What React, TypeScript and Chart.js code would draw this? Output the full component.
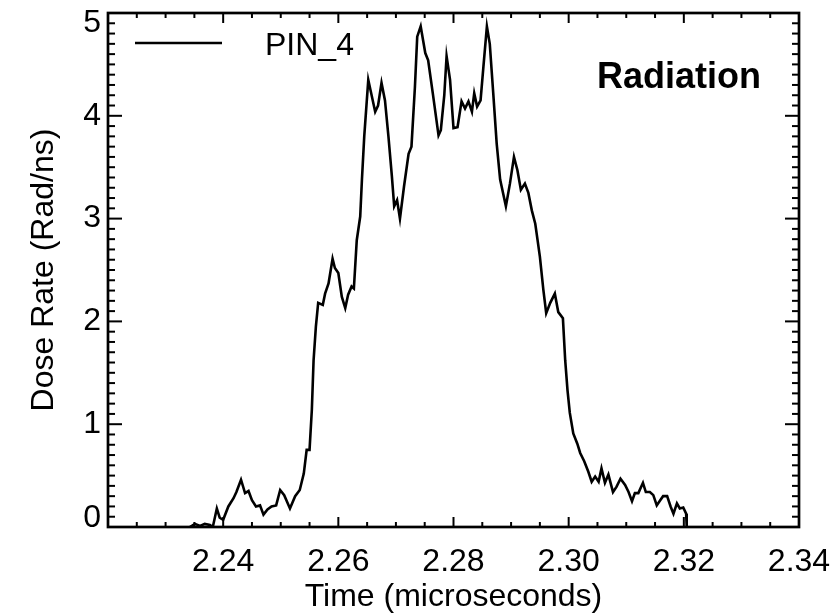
import { useEffect, useRef } from "react";
import { Chart, registerables } from "chart.js";

Chart.register(...registerables);

const FONT = '"Liberation Sans", Arial, Helvetica, sans-serif';

const seriesLabel = "PIN_4";
const annotationText = "Radiation";
const xTitle = "Time (microseconds)";
const yTitle = "Dose Rate (Rad/ns)";

const timeValues = [
  2.2342, 2.2351, 2.236, 2.2368, 2.2377, 2.2382, 2.2389, 2.2394, 2.24, 2.2409,
  2.2418, 2.2423, 2.2431, 2.2438, 2.2444, 2.245, 2.2457, 2.2464, 2.247, 2.2477,
  2.2484, 2.2492, 2.2499, 2.2506, 2.2516, 2.2525, 2.2533, 2.254, 2.2545, 2.255,
  2.2554, 2.2557, 2.2561, 2.2565, 2.2573, 2.2577, 2.2583, 2.259, 2.2594, 2.26,
  2.2606, 2.2612, 2.2617, 2.2623, 2.2627, 2.2632, 2.2638, 2.2641, 2.2645, 2.2652,
  2.2664, 2.2669, 2.2675, 2.2681, 2.2687, 2.2693, 2.2697, 2.2702, 2.2707, 2.2714,
  2.2722, 2.2727, 2.2733, 2.2737, 2.2743, 2.2751, 2.2756, 2.2764, 2.2774, 2.2778,
  2.2784, 2.2788, 2.2794, 2.28, 2.2807, 2.2814, 2.282, 2.2826, 2.2832, 2.2836,
  2.2841, 2.2847, 2.2852, 2.2858, 2.2863, 2.2869, 2.2875, 2.2881, 2.2891, 2.2898,
  2.2905, 2.2911, 2.2917, 2.2924, 2.293, 2.2936, 2.2942, 2.2946, 2.295, 2.2956,
  2.2961, 2.2968, 2.2976, 2.2982, 2.299, 2.2994, 2.2998, 2.3002, 2.3008, 2.3015,
  2.302, 2.3027, 2.3034, 2.304, 2.3046, 2.3052, 2.3057, 2.3063, 2.3069, 2.3077,
  2.3083, 2.309, 2.3098, 2.3104, 2.311, 2.3115, 2.3121, 2.3129, 2.3134, 2.3141,
  2.3147, 2.3153, 2.3159, 2.3164, 2.3171, 2.3177, 2.3182, 2.3188, 2.3193, 2.3199,
  2.3204, 2.3205,
];

const doseValues = [
  0.0, 0.03, 0.01, 0.03, 0.02, 0.0, 0.18, 0.09, 0.07, 0.2,
  0.28, 0.34, 0.46, 0.33, 0.35, 0.26, 0.2, 0.21, 0.12, 0.17,
  0.2, 0.21, 0.36, 0.31, 0.18, 0.3, 0.36, 0.52, 0.75, 0.75,
  1.14, 1.62, 1.95, 2.18, 2.16, 2.27, 2.37, 2.61, 2.52, 2.47,
  2.24, 2.13, 2.26, 2.34, 2.32, 2.79, 3.02, 3.38, 3.8, 4.35,
  4.04, 4.1, 4.32, 4.15, 3.8, 3.41, 3.12, 3.18, 3.0, 3.31,
  3.63, 3.7, 4.28, 4.77, 4.87, 4.61, 4.54, 4.22, 3.81, 3.86,
  4.2, 4.58, 4.35, 3.88, 3.89, 4.14, 4.07, 4.14, 4.04, 4.22,
  4.09, 4.15, 4.48, 4.87, 4.7, 4.22, 3.73, 3.38, 3.12, 3.34,
  3.6, 3.47, 3.28, 3.34, 3.25, 3.08, 2.95, 2.79, 2.63, 2.31,
  2.08, 2.18, 2.27, 2.09, 2.03, 1.62, 1.33, 1.11, 0.91, 0.81,
  0.72, 0.64, 0.54, 0.44, 0.49, 0.44, 0.57, 0.43, 0.51, 0.34,
  0.39, 0.47, 0.41, 0.34, 0.25, 0.33, 0.33, 0.43, 0.34, 0.34,
  0.31, 0.21, 0.26, 0.3, 0.3, 0.2, 0.13, 0.23, 0.18, 0.19,
  0.13, 0.0,
];

const xRange = [2.22, 2.34];
const yRange = [0, 5];
const xTickValues = [2.24, 2.26, 2.28, 2.3, 2.32, 2.34];
const yTickValues = [0, 1, 2, 3, 4, 5];
const xMinorStep = 0.005;
const yMinorStep = 0.1;

const framePlugin = {
  id: "frameAndNotes",
  afterDatasetsDraw(chart: any) {
    const { ctx, chartArea: a, scales } = chart;
    const x = scales.x;
    const y = scales.y;
    const seg = (x1: number, y1: number, x2: number, y2: number) => {
      ctx.beginPath();
      ctx.moveTo(x1, y1);
      ctx.lineTo(x2, y2);
      ctx.stroke();
    };
    ctx.save();
    ctx.strokeStyle = "#000";
    ctx.lineWidth = 2;
    ctx.lineCap = "butt";
    const nx = Math.round((x.max - x.min) / xMinorStep);
    for (let i = 0; i <= nx; i++) {
      const px = x.getPixelForValue(x.min + i * xMinorStep);
      const len = i % 4 === 0 ? 10 : 5;
      seg(px, a.bottom, px, a.bottom - len);
      seg(px, a.top, px, a.top + len);
    }
    const ny = Math.round((y.max - y.min) / yMinorStep);
    for (let i = 0; i <= ny; i++) {
      const py = y.getPixelForValue(y.min + i * yMinorStep);
      const len = i % 10 === 0 ? 14 : 7;
      seg(a.left, py, a.left + len, py);
      seg(a.right, py, a.right - len, py);
    }
    ctx.lineWidth = 2.7;
    ctx.strokeRect(a.left, a.top, a.right - a.left, a.bottom - a.top);

    // legend
    const ds = chart.data.datasets[0];
    ctx.lineWidth = ds.borderWidth;
    ctx.strokeStyle = ds.borderColor;
    seg(a.left + 27, a.top + 30, a.left + 114, a.top + 30);
    ctx.fillStyle = "#000";
    ctx.font = `32px ${FONT}`;
    ctx.textAlign = "left";
    ctx.textBaseline = "alphabetic";
    ctx.fillText(ds.label, a.left + 157, a.top + 42);

    // annotation
    ctx.font = `bold 36px ${FONT}`;
    ctx.textAlign = "right";
    ctx.fillText(annotationText, a.right - 38, a.top + 75);
    ctx.restore();
  },
};

export default function App() {
  const canvasRef = useRef<HTMLCanvasElement | null>(null);

  useEffect(() => {
    document.body.style.margin = "0";
    const canvas = canvasRef.current;
    if (!canvas) return;
    const data = timeValues.map((t, i) => ({ x: t, y: doseValues[i] }));
    const chart = new Chart(canvas, {
      type: "line",
      data: {
        datasets: [
          {
            label: seriesLabel,
            data,
            borderColor: "#000",
            borderWidth: 2.6,
            pointRadius: 0,
            tension: 0,
            fill: false,
          },
        ],
      },
      options: {
        animation: false,
        responsive: true,
        maintainAspectRatio: false,
        events: [],
        layout: { padding: { top: 13, right: 32, bottom: 0, left: 0 } },
        plugins: {
          legend: { display: false },
          tooltip: { enabled: false },
        },
        scales: {
          x: {
            type: "linear",
            min: xRange[0],
            max: xRange[1],
            grid: { display: false, drawTicks: false },
            border: { display: false },
            afterBuildTicks: (s: any) => {
              s.ticks = xTickValues.map((v) => ({ value: v }));
            },
            afterFit: (s: any) => {
              s.height = 89;
              s.paddingLeft = 0;
              s.paddingRight = 0;
            },
            ticks: {
              color: "#000",
              padding: 16,
              maxRotation: 0,
              autoSkip: false,
              font: { family: FONT, size: 32 },
              callback: (v: any) => Number(v).toFixed(2),
            },
            title: {
              display: true,
              text: xTitle,
              color: "#000",
              font: { family: FONT, size: 32 },
              padding: { top: 0, bottom: 0 },
            },
          },
          y: {
            type: "linear",
            min: yRange[0],
            max: yRange[1],
            grid: { display: false, drawTicks: false },
            border: { display: false },
            afterBuildTicks: (s: any) => {
              s.ticks = yTickValues.map((v) => ({ value: v }));
            },
            afterFit: (s: any) => {
              s.width = 108;
              s.paddingTop = 0;
              s.paddingBottom = 0;
            },
            ticks: {
              color: "#000",
              padding: 7,
              autoSkip: false,
              font: (c: any) => {
                const v = c.tick ? c.tick.value : null;
                return {
                  family: FONT,
                  size: 32,
                  lineHeight: v === yRange[1] ? "20px" : v === yRange[0] ? "18px" : 1.2,
                };
              },
              callback: (v: any) => {
                const s = String(v);
                if (v === yRange[1]) return ["", s];
                if (v === yRange[0]) return [s, ""];
                return s;
              },
            },
            title: {
              display: true,
              text: yTitle,
              color: "#000",
              font: { family: FONT, size: 32 },
              padding: { top: 25, bottom: 0 },
            },
          },
        },
      },
      plugins: [framePlugin],
    });
    return () => chart.destroy();
  }, []);

  return (
    <div style={{ position: "relative", width: 831, height: 616, background: "#fff" }}>
      <canvas ref={canvasRef} />
    </div>
  );
}
